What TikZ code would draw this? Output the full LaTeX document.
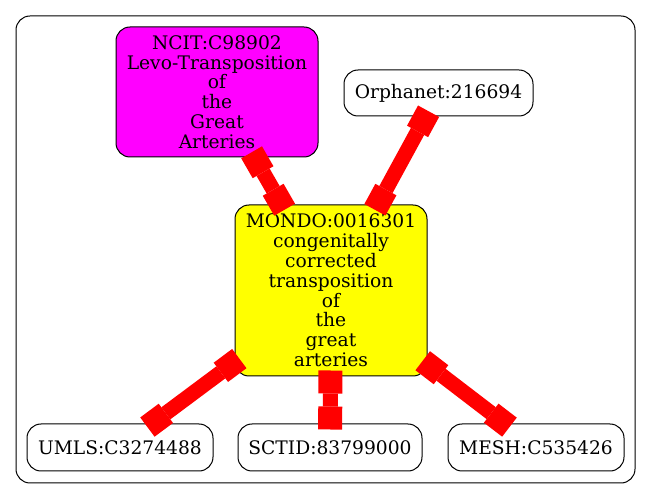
\documentclass[tikz,border=0pt]{standalone}
\usepackage{fontspec}
\setmainfont{DejaVu Serif}
\usetikzlibrary{arrows.meta}
\definecolor{gvmagenta}{RGB}{255,0,255}
\definecolor{gvyellow}{RGB}{255,255,0}
\definecolor{gvred}{RGB}{255,0,0}
\begin{document}
\begin{tikzpicture}[x=0.75pt,y=-0.75pt,
  term/.style={draw=black, line width=0.75pt, rounded corners=10.5pt, align=center, inner sep=0pt,
    font=\fontsize{14}{14.85}\selectfont},
  boxtip/.tip={Square[length=17.25pt,width=18pt,line width=0pt]},
  link/.style={draw=gvred, line width=11.25pt, boxtip-boxtip, shorten <=-4.5pt, shorten >=-4.5pt}]
\useasboundingbox (0,0) rectangle (651,499);
\draw[line width=0.75pt, rounded corners=10.5pt] (16,16) rectangle (635,483);
\node[term, fill=gvmagenta, minimum width=151.5pt, minimum height=97.5pt] (ncit) at (217,92)
  {NCIT:C98902\\Levo-Transposition\\of\\the\\Great\\Arteries};
\node[term, fill=white, minimum width=141.75pt, minimum height=34.5pt] (orpha) at (438.5,93) {Orphanet:216694};
\node[term, fill=gvyellow, minimum width=144pt, minimum height=128.25pt] (mondo) at (331,290.5)
  {MONDO:0016301\\congenitally\\corrected\\transposition\\of\\the\\great\\arteries};
\node[term, fill=white, minimum width=139.5pt, minimum height=35.25pt] (umls) at (120,447.5) {UMLS:C3274488};
\node[term, fill=white, minimum width=138pt, minimum height=35.25pt] (sctid) at (330,447.5) {SCTID:83799000};
\node[term, fill=white, minimum width=132pt, minimum height=35.25pt] (mesh) at (536,447.5) {MESH:C535426};
\draw[link] (ncit) -- (mondo);
\draw[link] (orpha) -- (mondo);
\draw[link] (mondo) -- (umls);
\draw[link] (mondo) -- (sctid);
\draw[link] (mondo) -- (mesh);
\end{tikzpicture}
\end{document}
